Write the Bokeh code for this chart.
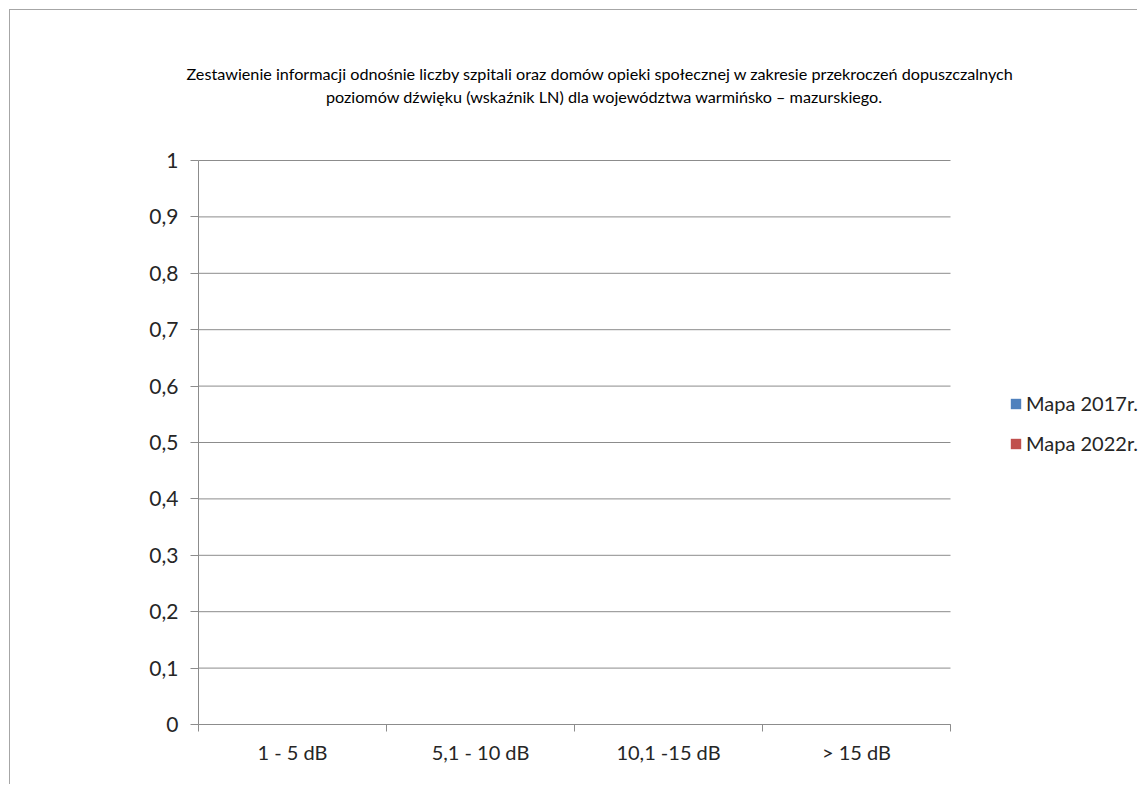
from bokeh.plotting import figure
from bokeh.models import Range1d, FixedTicker, CustomJSTickFormatter, Label, Legend, LegendItem
from bokeh.embed import file_html
from bokeh.resources import INLINE

# ---- data ----
categories = ["1 - 5 dB", "5,1 - 10 dB", "10,1 -15 dB", "> 15 dB"]
series_names = ["Mapa 2017r.", "Mapa 2022r."]
mapa_2017 = [0, 0, 0, 0]
mapa_2022 = [0, 0, 0, 0]
y_ticks = [0.0, 0.1, 0.2, 0.3, 0.4, 0.5, 0.6, 0.7, 0.8, 0.9, 1.0]
title_lines = [
    "Zestawienie informacji odnośnie liczby szpitali oraz  domów opieki społecznej w zakresie przekroczeń  dopuszczalnych",
    "poziomów dźwięku (wskaźnik LN) dla województwa warmińsko – mazurskiego.",
]

FONT = "Lato"
TXT = "#262626"
GRID = "#8c8c8c"

n = len(categories)
W, H = 1128, 775
AXIS_X, AXIS_Y = 188, 714   # canvas pixel position of value 0 / category start
px_x = 188.0                # pixels per category
px_y = 564.0                # pixels per unit of value

p = figure(width=W, height=H,
           x_range=Range1d(-AXIS_X / px_x, (W - AXIS_X) / px_x),
           y_range=Range1d(-(H - AXIS_Y) / px_y, AXIS_Y / px_y),
           output_backend="svg", toolbar_location=None,
           min_border_left=0, min_border_right=0,
           min_border_top=0, min_border_bottom=0)
p.margin = (9, 0, 0, 9)
p.styles = {"border-left": "1px solid #a6a6a6", "border-top": "1px solid #a6a6a6"}
p.outline_line_color = None
p.background_fill_color = "white"
p.border_fill_color = "white"
p.xgrid.visible = False
p.ygrid.visible = False

# horizontal gridlines over the category span
p.segment(x0=[0] * len(y_ticks), x1=[n] * len(y_ticks), y0=y_ticks, y1=y_ticks,
          line_color=GRID, line_width=1)

# bars (all zero)
w = 0.3
x17 = [i + 0.5 - w / 2 for i in range(n)]
x22 = [i + 0.5 + w / 2 for i in range(n)]
r1 = p.vbar(x=x17, top=mapa_2017, width=w, fill_color="#4f81bd", line_color=None)
r2 = p.vbar(x=x22, top=mapa_2022, width=w, fill_color="#c0504d", line_color=None)

# x axis (drawn at value 0)
xa = p.xaxis[0]
xa.fixed_location = 0
xa.bounds = (0, n)
xa.ticker = FixedTicker(ticks=[i + 0.5 for i in range(n)], minor_ticks=list(range(n + 1)))
xa.major_label_overrides = {i + 0.5: c for i, c in enumerate(categories)}
xa.major_tick_out = 0
xa.major_tick_in = 0
xa.minor_tick_out = 7
xa.minor_tick_in = 0
xa.minor_tick_line_color = GRID
xa.axis_line_color = GRID
xa.major_label_text_font = FONT
xa.major_label_text_font_size = "20px"
xa.major_label_text_color = TXT
xa.major_label_standoff = 8

# y axis (drawn at category start)
ya = p.yaxis[0]
ya.fixed_location = 0
ya.bounds = (y_ticks[0], y_ticks[-1])
ya.ticker = FixedTicker(ticks=y_ticks, minor_ticks=[])
ya.formatter = CustomJSTickFormatter(code="""
    const t = Math.round(tick * 10) / 10;
    if (t === 0) return '0';
    if (t === 1) return '1';
    return t.toFixed(1).replace('.', ',');
""")
ya.major_tick_out = 8
ya.major_tick_in = 0
ya.minor_tick_out = 0
ya.minor_tick_in = 0
ya.major_tick_line_color = GRID
ya.axis_line_color = GRID
ya.major_label_text_font = FONT
ya.major_label_text_font_size = "21px"
ya.major_label_text_color = TXT
ya.major_label_standoff = 12

# title (two lines)
title_x = (594 - AXIS_X) / px_x
for txt, sy in zip(title_lines, [63, 86]):
    p.add_layout(Label(x=title_x, y=(AXIS_Y - sy) / px_y, text=txt,
                       text_align="center", text_baseline="middle",
                       text_font=FONT, text_font_size="16.2px", text_color="#000000"))

legend = Legend(items=[LegendItem(label=series_names[0], renderers=[r1]),
                       LegendItem(label=series_names[1], renderers=[r2])],
                location=(999, 330), padding=0, margin=0, spacing=16,
                glyph_width=13, glyph_height=13, label_standoff=4, label_height=24,
                border_line_color=None, background_fill_alpha=0,
                label_text_font=FONT, label_text_font_size="20px", label_text_color=TXT)
p.add_layout(legend, "center")

open("out.html", "w").write(file_html(p, INLINE))
